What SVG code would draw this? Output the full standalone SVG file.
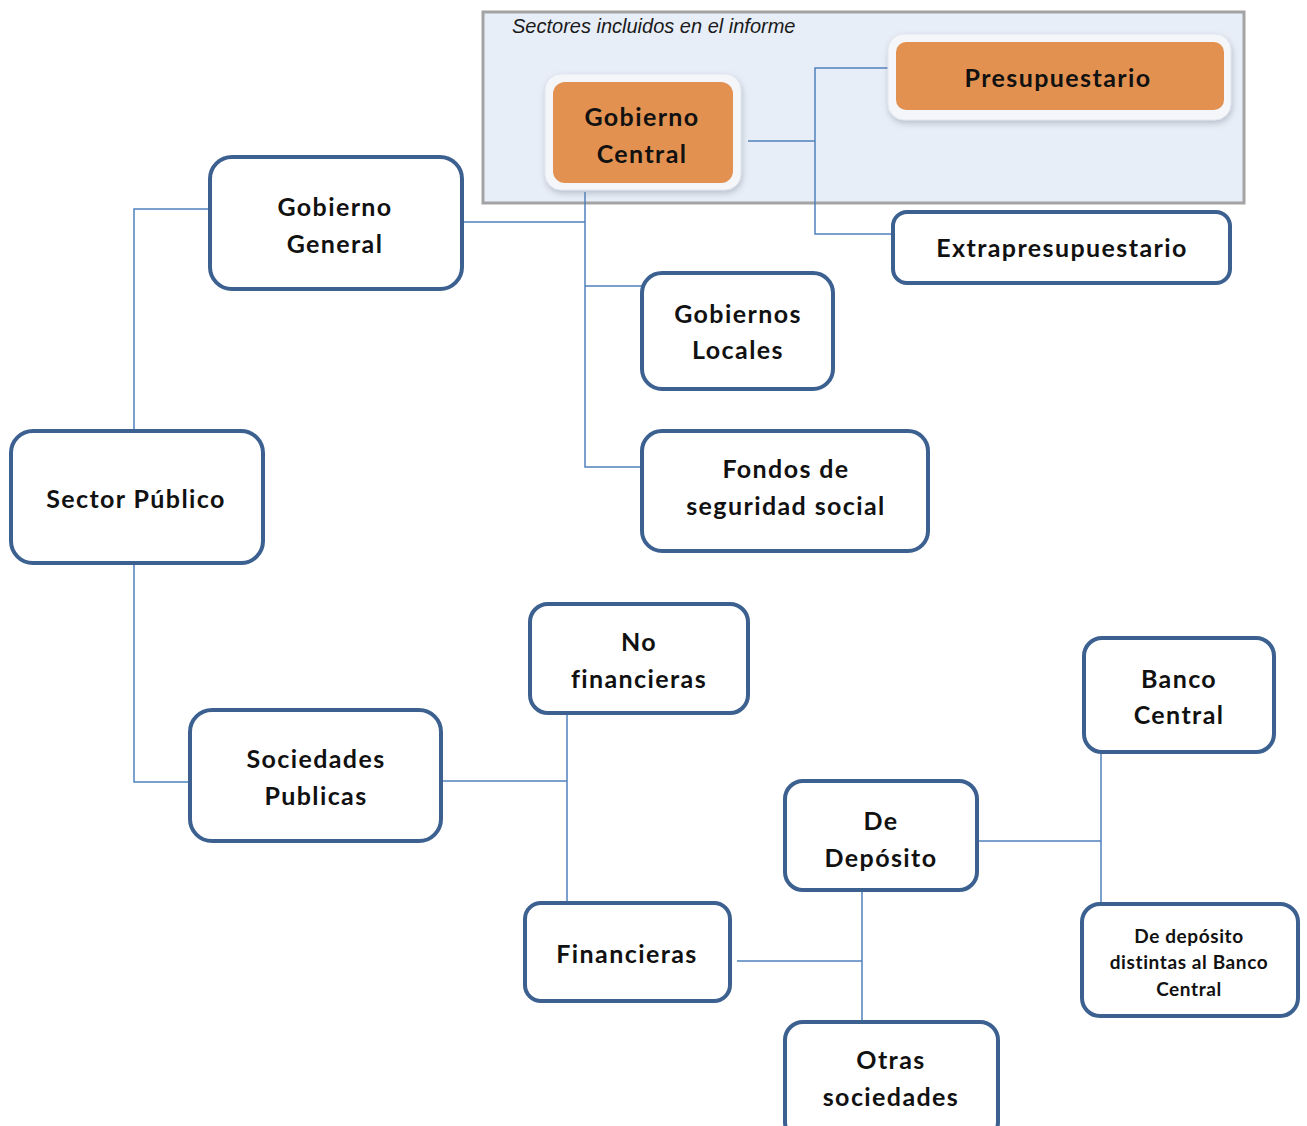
<svg xmlns="http://www.w3.org/2000/svg" width="1307" height="1126" viewBox="0 0 1307 1126">
  <defs>
    <style>
      .node { fill: #ffffff; stroke: #3c6190; stroke-width: 4; }
      .halo { fill: #f4f6fa; stroke: #e2e6ee; stroke-width: 1; }
      .core { fill: #e39150; }
      .lbl { font-family: Lato, "Open Sans", "DejaVu Sans", sans-serif; font-weight: 700; font-size: 25px; letter-spacing: 1.4px; fill: #111111; text-anchor: middle; dominant-baseline: central; }
      .small { font-size: 19px; letter-spacing: 0.6px; }
      .wire { fill: none; stroke: #4f81bd; stroke-width: 1.5; }
    </style>
    <filter id="soft" x="-10%" y="-10%" width="125%" height="130%">
      <feDropShadow dx="1" dy="3" stdDeviation="3" flood-color="#7f8a99" flood-opacity="0.45"/>
    </filter>
  </defs>

  <rect width="1307" height="1126" fill="#ffffff"/>

  <!-- included-sectors frame -->
  <g id="frame">
    <rect x="483" y="12" width="761" height="191" fill="#e8eef7" stroke="#a3a3a3" stroke-width="3"/>
    <text x="512" y="33" font-family="'Liberation Sans', Lato, sans-serif" font-style="italic" font-size="20" fill="#1a1a1a">Sectores incluidos en el informe</text>
  </g>

  <!-- connectors -->
  <g id="connectors">
    <polyline class="wire" points="210,209 134,209 134,431"/>
    <polyline class="wire" points="134,563 134,782 190,782"/>
    <line class="wire" x1="462" y1="222" x2="585" y2="222"/>
    <polyline class="wire" points="585,192 585,467 642,467"/>
    <line class="wire" x1="585" y1="286" x2="642" y2="286"/>
    <line class="wire" x1="748" y1="141" x2="815" y2="141"/>
    <polyline class="wire" points="888,68 815,68 815,234 893,234"/>
    <line class="wire" x1="441" y1="781" x2="567" y2="781"/>
    <line class="wire" x1="567" y1="713" x2="567" y2="903"/>
    <line class="wire" x1="737" y1="961" x2="862" y2="961"/>
    <line class="wire" x1="862" y1="890" x2="862" y2="1022"/>
    <line class="wire" x1="977" y1="841" x2="1101" y2="841"/>
    <line class="wire" x1="1101" y1="752" x2="1101" y2="904"/>
  </g>

  <g id="gobierno-central">
    <rect class="halo" x="545" y="74" width="196" height="116" rx="16" filter="url(#soft)"/>
    <rect class="core" x="553" y="82" width="180" height="101" rx="12"/>
    <text class="lbl" x="642" y="116">Gobierno</text>
    <text class="lbl" x="642" y="153">Central</text>
  </g>

  <g id="presupuestario">
    <rect class="halo" x="888" y="34" width="343" height="86" rx="16" filter="url(#soft)"/>
    <rect class="core" x="896" y="42" width="328" height="68" rx="10"/>
    <text class="lbl" x="1058" y="77">Presupuestario</text>
  </g>

  <g id="extrapresupuestario">
    <rect class="node" x="893" y="212" width="337" height="71" rx="14"/>
    <text class="lbl" x="1062" y="247">Extrapresupuestario</text>
  </g>

  <g id="gobierno-general">
    <rect class="node" x="210" y="157" width="252" height="132" rx="22"/>
    <text class="lbl" x="335" y="206">Gobierno</text>
    <text class="lbl" x="335" y="243">General</text>
  </g>

  <g id="gobiernos-locales">
    <rect class="node" x="642" y="273" width="191" height="116" rx="20"/>
    <text class="lbl" x="738" y="313">Gobiernos</text>
    <text class="lbl" x="738" y="349">Locales</text>
  </g>

  <g id="fondos-seguridad-social">
    <rect class="node" x="642" y="431" width="286" height="120" rx="20"/>
    <text class="lbl" x="786" y="468">Fondos de</text>
    <text class="lbl" x="786" y="505">seguridad social</text>
  </g>

  <g id="sector-publico">
    <rect class="node" x="11" y="431" width="252" height="132" rx="22"/>
    <text class="lbl" x="136" y="498">Sector Público</text>
  </g>

  <g id="sociedades-publicas">
    <rect class="node" x="190" y="710" width="251" height="131" rx="22"/>
    <text class="lbl" x="316" y="758">Sociedades</text>
    <text class="lbl" x="316" y="795">Publicas</text>
  </g>

  <g id="no-financieras">
    <rect class="node" x="530" y="604" width="218" height="109" rx="18"/>
    <text class="lbl" x="639" y="641">No</text>
    <text class="lbl" x="639" y="678">financieras</text>
  </g>

  <g id="financieras">
    <rect class="node" x="525" y="903" width="205" height="98" rx="16"/>
    <text class="lbl" x="627" y="953">Financieras</text>
  </g>

  <g id="de-deposito">
    <rect class="node" x="785" y="781" width="192" height="109" rx="18"/>
    <text class="lbl" x="881" y="820">De</text>
    <text class="lbl" x="881" y="857">Depósito</text>
  </g>

  <g id="banco-central">
    <rect class="node" x="1084" y="638" width="190" height="114" rx="18"/>
    <text class="lbl" x="1179" y="678">Banco</text>
    <text class="lbl" x="1179" y="714">Central</text>
  </g>

  <g id="depositos-no-bc">
    <rect class="node" x="1082" y="904" width="216" height="112" rx="18"/>
    <text class="lbl small" x="1189" y="935">De depósito</text>
    <text class="lbl small" x="1189" y="961">distintas al Banco</text>
    <text class="lbl small" x="1189" y="988">Central</text>
  </g>

  <g id="otras-sociedades">
    <rect class="node" x="785" y="1022" width="213" height="118" rx="18"/>
    <text class="lbl" x="891" y="1059">Otras</text>
    <text class="lbl" x="891" y="1096">sociedades</text>
  </g>
</svg>
